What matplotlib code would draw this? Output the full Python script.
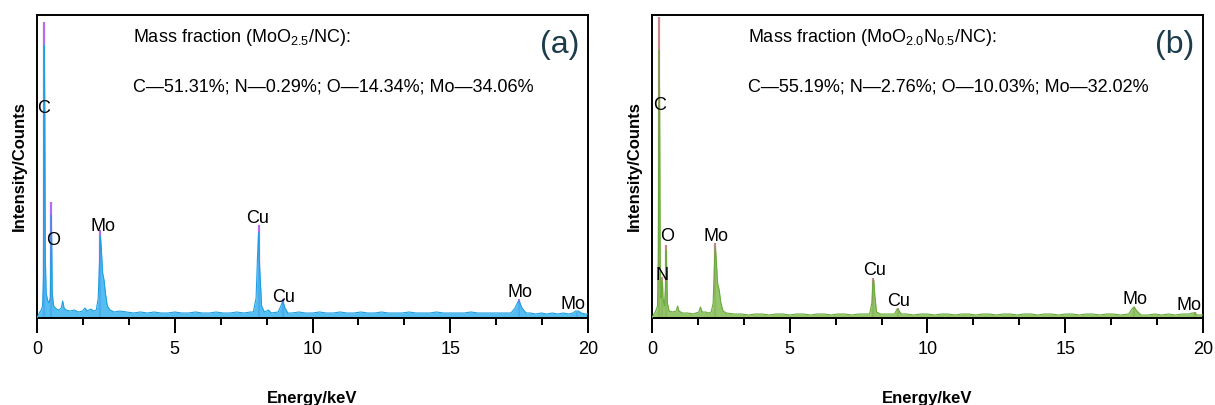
import matplotlib
matplotlib.use('Agg')
import matplotlib.pyplot as plt

plt.rcParams['font.family'] = ['Liberation Sans', 'DejaVu Sans']
plt.rcParams['mathtext.fontset'] = 'custom'
plt.rcParams['mathtext.rm'] = 'Liberation Sans'
plt.rcParams['mathtext.it'] = 'Liberation Sans:italic'

# EDS spectrum (a): MoO2.5/NC  (energy in keV, counts in arb. units)
energy_a = [0.0, 0.05, 0.10, 0.15, 0.20, 0.23, 0.25, 0.265, 0.28, 0.30, 0.33, 0.38, 0.43, 0.48, 0.50, 0.515,
            0.53, 0.55, 0.60, 0.70, 0.80, 0.88, 0.93, 0.98, 1.05, 1.2, 1.35, 1.5, 1.65, 1.74, 1.82, 1.95,
            2.05, 2.15, 2.22, 2.27, 2.30, 2.33, 2.38, 2.43, 2.48, 2.55, 2.65, 2.8, 3.0, 3.25, 3.5, 3.75,
            4.0, 4.25, 4.5, 4.75, 5.0, 5.25, 5.5, 5.75, 6.0, 6.25, 6.5, 6.75, 7.0, 7.25, 7.5, 7.75,
            7.85, 7.95, 8.00, 8.04, 8.08, 8.15, 8.25, 8.4, 8.5, 8.75, 8.85, 8.92, 9.0, 9.1, 9.25, 9.5,
            9.75, 10.0, 10.25, 10.5, 10.75, 11.0, 11.25, 11.5, 11.75, 12.0, 12.25, 12.5, 12.75, 13.0, 13.25, 13.5,
            13.75, 14.0, 14.25, 14.5, 14.75, 15.0, 15.25, 15.5, 15.75, 16.0, 16.25, 16.5, 16.75, 17.0, 17.2, 17.35,
            17.45, 17.5, 17.6, 17.75, 17.9, 18.1, 18.3, 18.5, 18.7, 18.9, 19.1, 19.3, 19.45, 19.55, 19.65, 19.75,
            19.9, 20.0]
counts_a = [0, 3, 6, 8, 12, 40, 180, 273, 200, 60, 25, 18, 15, 20, 60, 103,
            80, 25, 12, 9, 8, 10, 17, 10, 8, 7, 8, 6, 7, 10, 7, 9,
            7, 8, 20, 60, 82, 70, 45, 38, 25, 12, 8, 6, 7, 6, 5, 6,
            5, 6, 5, 5, 6, 5, 5, 6, 5, 5, 6, 5, 5, 6, 5, 6,
            6, 20, 60, 85, 50, 12, 6, 8, 5, 6, 12, 17, 10, 5, 5, 6,
            5, 5, 6, 5, 5, 6, 5, 5, 6, 5, 5, 6, 5, 5, 5, 6,
            5, 5, 5, 6, 5, 5, 5, 5, 6, 5, 5, 5, 5, 5, 5, 10,
            16, 17, 10, 5, 5, 4, 5, 4, 5, 4, 5, 4, 5, 7, 7, 5,
            4, 4]

# EDS spectrum (b): MoO2.0N0.5/NC
energy_b = [0.0, 0.05, 0.10, 0.15, 0.20, 0.23, 0.25, 0.265, 0.28, 0.30, 0.33, 0.36, 0.38, 0.40, 0.45, 0.49,
            0.515, 0.535, 0.56, 0.62, 0.75, 0.88, 0.93, 0.98, 1.1, 1.3, 1.5, 1.7, 1.76, 1.82, 1.95, 2.05,
            2.15, 2.22, 2.27, 2.30, 2.33, 2.38, 2.44, 2.5, 2.58, 2.7, 3.0, 3.25, 3.5, 3.75, 4.0, 4.25,
            4.5, 4.75, 5.0, 5.25, 5.5, 5.75, 6.0, 6.25, 6.5, 6.75, 7.0, 7.25, 7.5, 7.75, 7.9, 7.98,
            8.02, 8.05, 8.09, 8.15, 8.3, 8.5, 8.8, 8.9, 8.95, 9.05, 9.25, 9.5, 9.75, 10.0, 10.25, 10.5,
            10.75, 11.0, 11.25, 11.5, 11.75, 12.0, 12.25, 12.5, 12.75, 13.0, 13.25, 13.5, 13.75, 14.0, 14.25, 14.5,
            14.75, 15.0, 15.25, 15.5, 15.75, 16.0, 16.25, 16.5, 16.75, 17.0, 17.3, 17.42, 17.5, 17.6, 17.75, 18.0,
            18.25, 18.5, 18.75, 19.0, 19.25, 19.5, 19.6, 19.7, 19.8, 20.0]
counts_b = [0, 3, 5, 8, 12, 60, 200, 268, 200, 50, 20, 30, 36, 20, 12, 30,
            68, 50, 15, 7, 6, 7, 12, 7, 5, 5, 4, 6, 11, 6, 6, 5,
            6, 15, 55, 72, 60, 35, 28, 15, 7, 5, 4, 4, 3, 4, 4, 3,
            4, 4, 3, 4, 4, 3, 4, 4, 3, 4, 4, 3, 4, 4, 4, 15,
            35, 38, 22, 6, 4, 4, 4, 9, 8, 4, 4, 3, 4, 4, 3, 4,
            4, 3, 4, 4, 3, 4, 4, 3, 4, 4, 3, 4, 4, 3, 4, 4,
            3, 4, 4, 3, 4, 4, 3, 4, 4, 3, 4, 9, 11, 7, 3, 3,
            4, 3, 4, 3, 4, 4, 5, 5, 3, 3]

# element line markers: energy, marker height, label, label position
lines_a = [0.265, 0.52, 2.30, 8.04, 8.92, 17.48, 19.6]
heights_a = [296, 116, 88, 93, 19, 19, 6]
labels_a = ['C', 'O', 'Mo', 'Cu', 'Cu', 'Mo', 'Mo']
label_xy_a = [(0.25, 210), (0.58, 78), (2.40, 92), (8.02, 100), (8.93, 21), (17.53, 26), (19.46, 14)]

lines_b = [0.27, 0.37, 0.52, 2.30, 8.04, 8.92, 17.5, 19.7]
heights_b = [301, 41, 73, 75, 40, 10, 11, 6]
labels_b = ['C', 'N', 'O', 'Mo', 'Cu', 'Cu', 'Mo', 'Mo']
label_xy_b = [(0.27, 213), (0.35, 43), (0.56, 82), (2.31, 82), (8.09, 48), (8.96, 17), (17.55, 19), (19.5, 13)]

title_a = 'Mass fraction (MoO$_{2.5}$/NC):'
comp_a = 'C\u201451.31%; N\u20140.29%; O\u201414.34%; Mo\u201434.06%'
title_b = 'Mass fraction (MoO$_{2.0}$N$_{0.5}$/NC):'
comp_b = 'C\u201455.19%; N\u20142.76%; O\u201410.03%; Mo\u201432.02%'


def panel(ax, x, y, lines, heights, labels, label_xy, fill, edge, mark, title, comp, tag):
    ax.vlines(lines, 0, heights, color=mark, lw=1.6, zorder=1)
    ax.fill_between(x, 0, y, color=fill, alpha=0.88, lw=0, zorder=2)
    ax.plot(x, y, color=edge, lw=0.8, zorder=3)
    for lab, (lx, ly) in zip(labels, label_xy):
        ax.text(lx, ly, lab, ha='center', va='center', fontsize=13, zorder=4)
    ax.text(0.174, 0.927, title, transform=ax.transAxes, ha='left', va='center', fontsize=13)
    ax.text(0.174, 0.762, comp, transform=ax.transAxes, ha='left', va='center', fontsize=13)
    ax.text(0.949, 0.90, tag, transform=ax.transAxes, ha='center', va='center', fontsize=23, color='#1c3c4c')
    ax.set_xlim(0, 20)
    ax.set_ylim(0, 303)
    ax.set_xticks([0, 5, 10, 15, 20])
    ax.set_xticks([5 / 3 * i for i in range(13)], minor=True)
    ax.set_yticks([])
    ax.tick_params(axis='x', which='major', direction='out', length=10.5, width=1.4, pad=6, labelsize=13)
    ax.tick_params(axis='x', which='minor', direction='out', length=5, width=1.4)
    for s in ax.spines.values():
        s.set_linewidth(1.4)
    ax.set_xlabel('Energy/keV', fontsize=12, fontweight='bold', labelpad=24)
    ax.set_ylabel('Intensity/Counts', fontsize=12, fontweight='bold', labelpad=7)


fig = plt.figure(figsize=(12.15, 4.05), dpi=100)
ax1 = fig.add_axes([0.0305, 0.2148, 0.4535, 0.748])
ax2 = fig.add_axes([0.5366, 0.2148, 0.4535, 0.748])

panel(ax1, energy_a, counts_a, lines_a, heights_a, labels_a, label_xy_a,
      '#3db5ee', '#1e9fe0', '#b46cf5', title_a, comp_a, '(a)')
panel(ax2, energy_b, counts_b, lines_b, heights_b, labels_b, label_xy_b,
      '#85c057', '#6aaa3c', '#c48a8a', title_b, comp_b, '(b)')

fig.savefig('out.png', dpi=100)
